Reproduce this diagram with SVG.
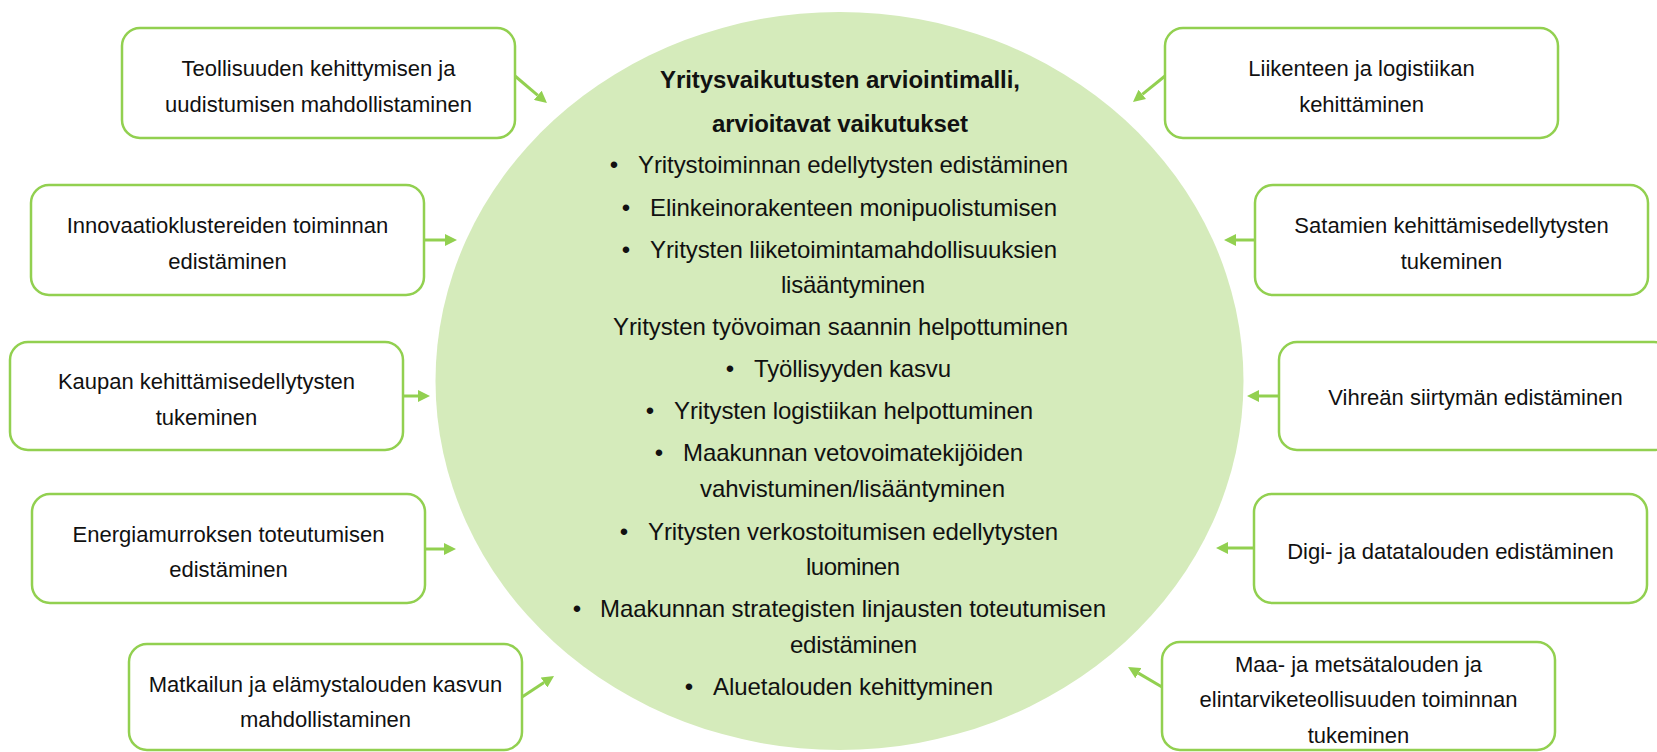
<svg xmlns="http://www.w3.org/2000/svg" width="1657" height="752" viewBox="0 0 1657 752">
<style>
.box{fill:#fff;stroke:#92D050;stroke-width:2.5}
.bt{font-family:"Liberation Sans",Arial,sans-serif;font-size:22px;fill:#111;text-anchor:middle}
.ct{font-family:"Liberation Sans",Arial,sans-serif;font-size:24px;fill:#111}
.b{font-weight:bold}
.bul{text-anchor:middle}
.arr{stroke:#92D050;stroke-width:3;fill:none;marker-end:url(#ah)}
</style>
<defs>
<marker id="ah" markerUnits="userSpaceOnUse" markerWidth="12" markerHeight="12" refX="0" refY="6" orient="auto">
<path d="M0,0 L12,6 L0,12 z" fill="#92D050"/>
</marker>
</defs>
<rect width="1657" height="752" fill="#fff"/>
<g id="center">
<ellipse cx="839.5" cy="381" rx="404" ry="369" fill="#D5EBBB"/>
<text class="ct b" x="660" y="88" textLength="360">Yritysvaikutusten arviointimalli,</text>
<text class="ct b" x="712" y="132" textLength="256">arvioitavat vaikutukset</text>
<text class="ct bul" x="614" y="173">•</text>
<text class="ct" x="638" y="173" textLength="430">Yritystoiminnan edellytysten edistäminen</text>
<text class="ct bul" x="626" y="216">•</text>
<text class="ct" x="650" y="216" textLength="407">Elinkeinorakenteen monipuolistumisen</text>
<text class="ct bul" x="626" y="258">•</text>
<text class="ct" x="650" y="258" textLength="407">Yritysten liiketoimintamahdollisuuksien</text>
<text class="ct" x="781" y="293" textLength="144">lisääntyminen</text>
<text class="ct" x="613" y="335" textLength="455">Yritysten työvoiman saannin helpottuminen</text>
<text class="ct bul" x="730" y="377">•</text>
<text class="ct" x="754" y="377" textLength="197">Työllisyyden kasvu</text>
<text class="ct bul" x="650" y="419">•</text>
<text class="ct" x="674" y="419" textLength="359">Yritysten logistiikan helpottuminen</text>
<text class="ct bul" x="659" y="461">•</text>
<text class="ct" x="683" y="461" textLength="340">Maakunnan vetovoimatekijöiden</text>
<text class="ct" x="700" y="497" textLength="305">vahvistuminen/lisääntyminen</text>
<text class="ct bul" x="624" y="540">•</text>
<text class="ct" x="648" y="540" textLength="410">Yritysten verkostoitumisen edellytysten</text>
<text class="ct" x="806" y="575" textLength="94">luominen</text>
<text class="ct bul" x="577" y="617">•</text>
<text class="ct" x="600" y="617" textLength="506">Maakunnan strategisten linjausten toteutumisen</text>
<text class="ct" x="790" y="653" textLength="127">edistäminen</text>
<text class="ct bul" x="689" y="695">•</text>
<text class="ct" x="713" y="695" textLength="280">Aluetalouden kehittyminen</text>
</g>
<g id="n1"><rect class="box" x="122" y="28" width="393" height="110" rx="18"/>
<text class="bt" x="318.5" y="76">Teollisuuden kehittymisen ja</text><text class="bt" x="318.5" y="112">uudistumisen mahdollistaminen</text></g>
<g id="n2"><rect class="box" x="1165" y="28" width="393" height="110" rx="18"/>
<text class="bt" x="1361.5" y="76">Liikenteen ja logistiikan</text><text class="bt" x="1361.5" y="112">kehittäminen</text></g>
<g id="n3"><rect class="box" x="31" y="185" width="393" height="110" rx="18"/>
<text class="bt" x="227.5" y="233">Innovaatioklustereiden toiminnan</text><text class="bt" x="227.5" y="269">edistäminen</text></g>
<g id="n4"><rect class="box" x="10" y="342" width="393" height="108" rx="18"/>
<text class="bt" x="206.5" y="389">Kaupan kehittämisedellytysten</text><text class="bt" x="206.5" y="425">tukeminen</text></g>
<g id="n5"><rect class="box" x="1255" y="185" width="393" height="110" rx="18"/>
<text class="bt" x="1451.5" y="233">Satamien kehittämisedellytysten</text><text class="bt" x="1451.5" y="269">tukeminen</text></g>
<g id="n6"><rect class="box" x="1279" y="342" width="393" height="108" rx="18"/>
<text class="bt" x="1475.5" y="405">Vihreän siirtymän edistäminen</text></g>
<g id="n7"><rect class="box" x="32" y="494" width="393" height="109" rx="18"/>
<text class="bt" x="228.5" y="542">Energiamurroksen toteutumisen</text><text class="bt" x="228.5" y="577">edistäminen</text></g>
<g id="n8"><rect class="box" x="129" y="644" width="393" height="106" rx="18"/>
<text class="bt" x="325.5" y="692">Matkailun ja elämystalouden kasvun</text><text class="bt" x="325.5" y="727">mahdollistaminen</text></g>
<g id="n9"><rect class="box" x="1254" y="494" width="393" height="109" rx="18"/>
<text class="bt" x="1450.5" y="559">Digi- ja datatalouden edistäminen</text></g>
<g id="n10"><rect class="box" x="1162" y="642" width="393" height="108" rx="18"/>
<text class="bt" x="1358.5" y="672">Maa- ja metsätalouden ja</text><text class="bt" x="1358.5" y="707">elintarviketeollisuuden toiminnan</text><text class="bt" x="1358.5" y="743">tukeminen</text></g>
<g id="connectors">
<path class="arr" d="M515,76 L537.8,95.3"/>
<path class="arr" d="M1165,76 L1142.3,94.4"/>
<path class="arr" d="M424,240 L445,240"/>
<path class="arr" d="M403,396 L418,396"/>
<path class="arr" d="M1255,240 L1236,240"/>
<path class="arr" d="M1279,396 L1259,396"/>
<path class="arr" d="M425,549 L444,549"/>
<path class="arr" d="M522,697 L544,682.6"/>
<path class="arr" d="M1254,548 L1228,548"/>
<path class="arr" d="M1162,687 L1138.4,673.1"/>
</g>
</svg>
